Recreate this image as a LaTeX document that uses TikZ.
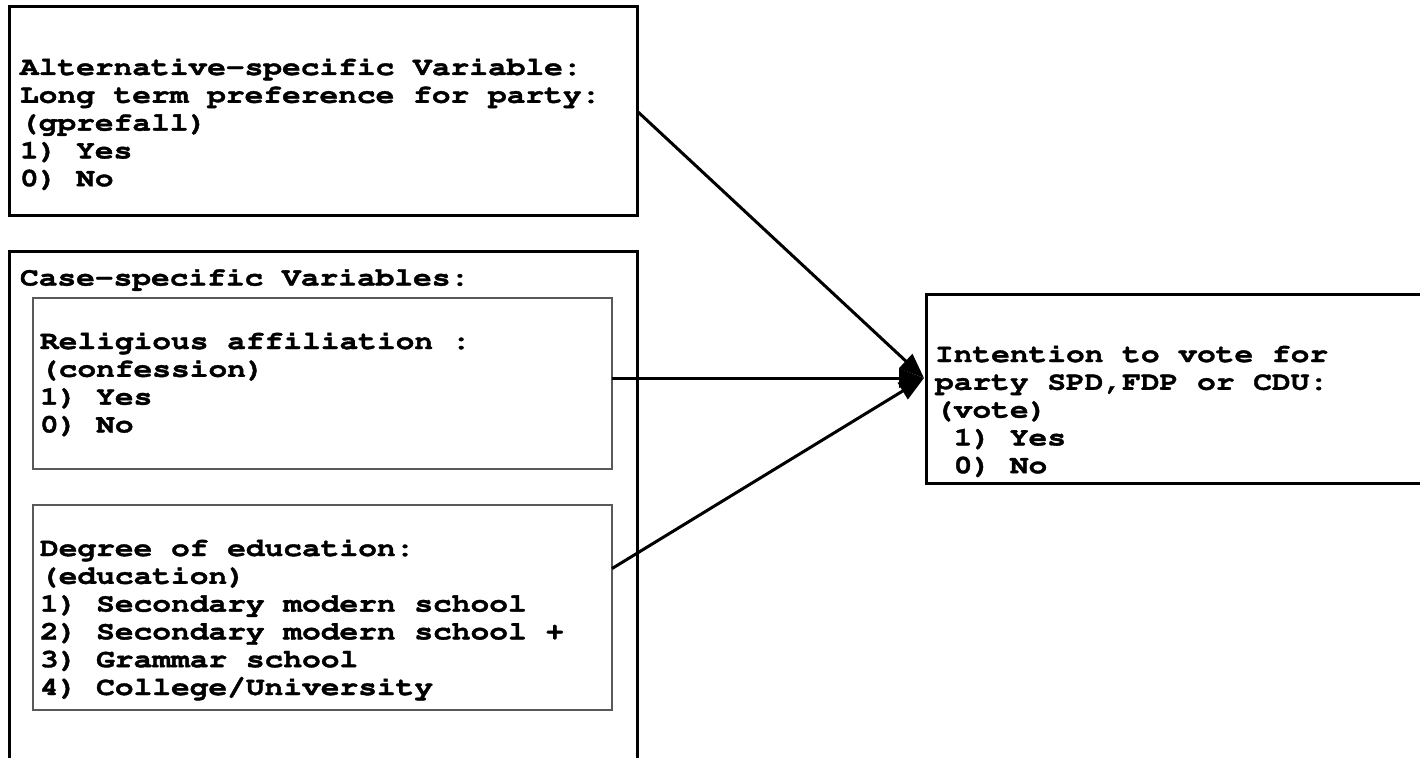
\documentclass[tikz,border=0pt]{standalone}
\usepackage[T1]{fontenc}
\usepackage{graphicx}
\usetikzlibrary{arrows.meta,calc}
\newcommand{\blk}[1]{\special{pdf:literal direct 2 Tr 0.35 w}\scalebox{1.2}[1]{\begin{tabular}[t]{@{}l@{}}#1\end{tabular}}\special{pdf:literal direct 0 Tr}}
\tikzset{
  outerbox/.style={draw=black, line width=3pt, inner sep=0pt, outer sep=0pt, fill=none},
  innerbox/.style={draw=black!65, line width=1.2pt, inner sep=0pt, outer sep=0pt},
  txt/.style={anchor=base west, inner sep=0pt, outer sep=0pt,
    font=\fontencoding{T1}\fontfamily{pcr}\bfseries\fontsize{26}{27.8}\selectfont},
  arr/.style={line width=3pt, -{Triangle[length=25pt,width=19pt]}}
}
\begin{document}
\begin{tikzpicture}[x=1pt,y=-1pt]
\useasboundingbox[fill=white] (0,0) rectangle (1420,757);
% boxes
\node[outerbox, minimum width=627.5pt, minimum height=208pt] (alt) at (323.25,111) {};
\node[outerbox, minimum width=627.5pt, minimum height=523.5pt] (case) at (323.25,513.25) {};
\node[innerbox, minimum width=579pt, minimum height=171pt] (rel) at (322.5,383.5) {};
\node[innerbox, minimum width=579pt, minimum height=205pt] (deg) at (322.5,607.5) {};
\node[outerbox, minimum width=514pt, minimum height=189pt] (vote) at (1183,389) {};
% texts
\node[txt] (altt) at (20,75) {\blk{Alternative-specific Variable:\\Long term preference for party:\\(gprefall)\\1) Yes\\0) No}};
\node[txt] (caset) at (20,285.5) {\blk{Case-specific Variables:}};
\node[txt] (relt) at (40,349) {\blk{Religious affiliation :\\(confession)\\1) Yes\\0) No}};
\node[txt] (degt) at (40,556) {\blk{Degree of education:\\(education)\\1) Secondary modern school\\2) Secondary modern school +\\3) Grammar school\\4) College/University}};
\node[txt] (votet) at (935,362) {\blk{Intention to vote for\\party SPD,FDP or CDU:\\(vote)\\\phantom{0}1) Yes\\\phantom{0}0) No}};
% connectors
\coordinate (tip) at ($(vote.west)+(-2,-11)$);
\coordinate (degout) at ($(deg.north east)!0.31!(deg.south east)$);
\draw[arr] (alt.east) -- (tip);
\draw[arr] (rel.east |- tip) -- (tip);
\draw[arr] (degout) -- (tip);
\end{tikzpicture}
\end{document}
